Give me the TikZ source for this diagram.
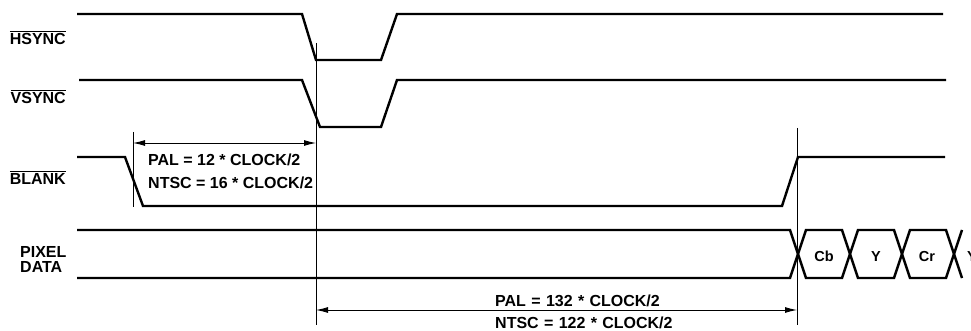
\documentclass[tikz,border=0pt]{standalone}
\usepackage{fontspec}
\setmainfont{Liberation Sans}
\usetikzlibrary{arrows.meta}
\newcommand\myovl[1]{\vbox{\hrule height 1pt\kern 1.6pt\hbox{#1}}}
\begin{document}
\begin{tikzpicture}[x=1pt,y=-1pt,
  sig/.style={line width=2.4pt},
  thinline/.style={line width=0.9pt},
  dim/.style={line width=0.9pt,{Latex[length=12pt,width=6pt]}-{Latex[length=12pt,width=6pt]}},
  lbl/.style={font=\fontsize{16}{16}\selectfont\bfseries, inner sep=0pt},
  buslbl/.style={font=\fontsize{14.5}{14.5}\selectfont\bfseries, inner sep=0pt, anchor=base},
  gaplbl/.style={lbl, fill=white, inner xsep=5pt, inner ysep=4pt, text width=182pt, align=left, anchor=base west}]
\useasboundingbox (0,0) rectangle (971,331);
% signal labels
\node[lbl, anchor=base east] (lhs) at (66,45) {\myovl{HSYNC}};
\node[lbl, anchor=base east] (lvs) at (66,104) {\myovl{VSYNC}};
\node[lbl, anchor=base east] (lbk) at (66,185) {\myovl{BLANK}};
\node[lbl, anchor=base west] (lpx) at (20,257) {PIXEL};
\node[lbl, anchor=base west] (lda) at (20,272) {DATA};
% waveforms
\draw[sig] (77,14) -- (302,14) -- (316,60) -- (381,60) -- (397,14) -- (943,14);
\draw[sig] (79,80) -- (302,80) -- (320,127) -- (381,127) -- (397,80) -- (946,80);
\draw[sig] (77,157) -- (125,157) -- (143,206) -- (782,206) -- (798,157) -- (945,157);
\draw[sig] (77,230) -- (790,230) -- (806,278) -- (842,278) -- (858,230) -- (894,230) -- (910,278) -- (946,278) -- (962,230);
\draw[sig] (77,278) -- (790,278) -- (806,230) -- (842,230) -- (858,278) -- (894,278) -- (910,230) -- (946,230) -- (962,278);
\node[buslbl] (cb) at (824,261.5) {Cb};
\node[buslbl] (y1) at (876,261.5) {Y};
\node[buslbl] (cr) at (927,261.5) {Cr};
\node[buslbl] (y2) at (972,261.5) {Y};
% reference lines
\coordinate (v1t) at (316,43);
\coordinate (v1b) at (316,325);
\coordinate (v2t) at (797,128);
\coordinate (v2b) at (797,325);
\coordinate (v0t) at (133,132);
\coordinate (v0b) at (133,207);
\draw[thinline] (v1t) -- (v1b);
\draw[thinline] (v2t) -- (v2b);
\draw[thinline] (v0t) -- (v0b);
% dimension arrows
\coordinate (a1l) at (133,143);
\coordinate (a1r) at (316,143);
\draw[dim] (a1l) -- (a1r);
\node[lbl, anchor=base west] (pal1) at (148,166) {PAL = 12 * CLOCK/2};
\node[lbl, anchor=base west] (ntsc1) at (148,189) {NTSC = 16 * CLOCK/2};
\coordinate (a2l) at (316,310);
\coordinate (a2r) at (797,310);
\draw[dim] (a2l) -- (a2r);
\node[gaplbl] (pal2) at (490,306) {PAL = 132 * CLOCK/2};
\node[gaplbl] (ntsc2) at (490,328) {NTSC = 122 * CLOCK/2};
\end{tikzpicture}
\end{document}
